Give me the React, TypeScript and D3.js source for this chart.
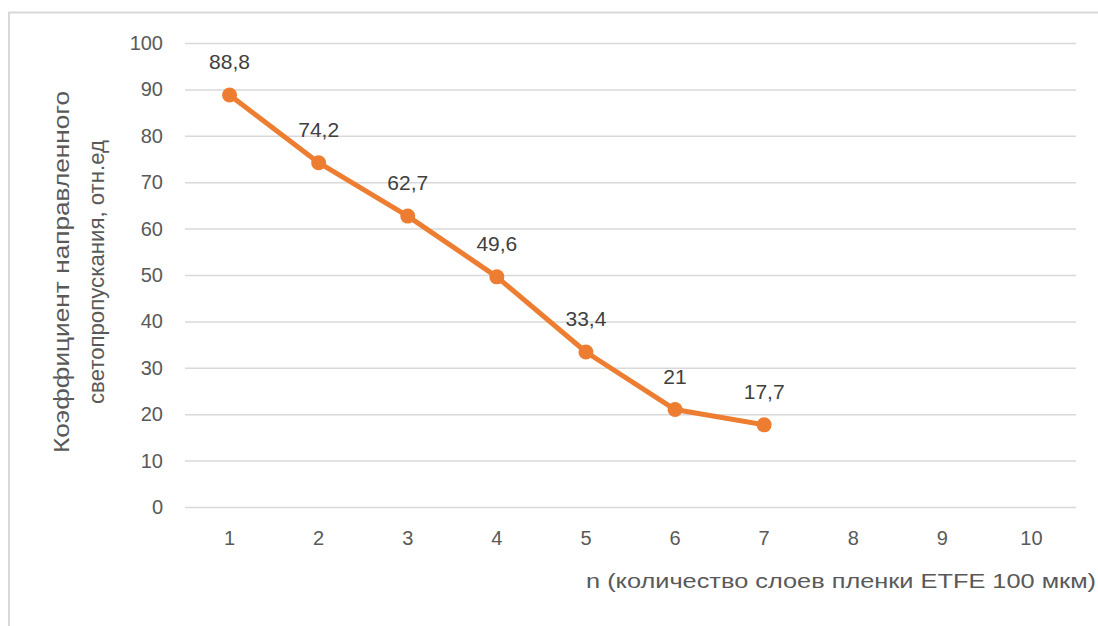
import { useEffect, useRef } from "react";
import * as d3 from "d3";

const layers = [1, 2, 3, 4, 5, 6, 7, 8, 9, 10];
const transmission: (number | null)[] = [88.8, 74.2, 62.7, 49.6, 33.4, 21, 17.7, null, null, null];
const yTicks = [0, 10, 20, 30, 40, 50, 60, 70, 80, 90, 100];
const xTitle = "n (количество слоев пленки ETFE 100 мкм)";
const yTitle = ["Коэффициент направленного", "светопропускания, отн.ед"];

const W = 1098;
const H = 626;
const FONT = "'Liberation Sans', Arial, sans-serif";
const TEXT = "#595959";
const ORANGE = "#ED7D31";

export default function App() {
  const svgRef = useRef<SVGSVGElement>(null);

  useEffect(() => {
    if (!svgRef.current) return;
    const svg = d3.select(svgRef.current);
    svg.selectAll("*").remove();

    const margin = { top: 43, right: 22, bottom: 119, left: 185 };
    const innerW = W - margin.left - margin.right;
    const innerH = H - margin.top - margin.bottom;

    // chart frame, runs off the bottom/right edge
    svg
      .append("rect")
      .attr("x", 9)
      .attr("y", 12.5)
      .attr("width", W + 20)
      .attr("height", H + 20)
      .attr("fill", "white")
      .attr("stroke", "#d9d9d9")
      .attr("stroke-width", 2);

    const g = svg
      .append("g")
      .attr("transform", `translate(${margin.left},${margin.top})`);

    const x = d3
      .scaleBand<number>()
      .domain(layers)
      .range([0, innerW])
      .padding(0);
    const y = d3.scaleLinear().domain([0, 100]).range([innerH, 0]);

    // gridlines
    g.append("g")
      .call(
        d3
          .axisLeft(y)
          .tickValues(yTicks)
          .tickSize(-innerW)
          .tickFormat(() => "")
      )
      .call((axis) => {
        axis.select(".domain").remove();
        axis
          .selectAll("line")
          .attr("stroke", "#d9d9d9")
          .attr("stroke-width", 1.5);
      });

    // y tick labels
    g.append("g")
      .call(d3.axisLeft(y).tickValues(yTicks).tickSize(0).tickPadding(22))
      .call((axis) => {
        axis.select(".domain").remove();
        axis
          .selectAll("text")
          .attr("fill", TEXT)
          .attr("font-size", "20px")
          .attr("font-family", FONT);
      });

    // x tick labels
    g.append("g")
      .attr("transform", `translate(0,${innerH})`)
      .call(d3.axisBottom(x).tickSize(0).tickPadding(24))
      .call((axis) => {
        axis.select(".domain").remove();
        axis
          .selectAll("text")
          .attr("fill", TEXT)
          .attr("font-size", "20px")
          .attr("font-family", FONT);
      });

    const cx = (d: number) => (x(d) ?? 0) + x.bandwidth() / 2;
    const pts = layers
      .map((n, i) => ({ n, v: transmission[i] }))
      .filter((p): p is { n: number; v: number } => p.v !== null);

    const line = d3
      .line<{ n: number; v: number }>()
      .x((p) => cx(p.n))
      .y((p) => y(p.v));

    g.append("path")
      .datum(pts)
      .attr("d", line)
      .attr("fill", "none")
      .attr("stroke", ORANGE)
      .attr("stroke-width", 5)
      .attr("stroke-linejoin", "round")
      .attr("stroke-linecap", "round");

    g.selectAll("circle.pt")
      .data(pts)
      .join("circle")
      .attr("class", "pt")
      .attr("cx", (p) => cx(p.n))
      .attr("cy", (p) => y(p.v))
      .attr("r", 7.5)
      .attr("fill", ORANGE);

    g.selectAll("text.lbl")
      .data(pts)
      .join("text")
      .attr("class", "lbl")
      .attr("x", (p) => cx(p.n))
      .attr("y", (p) => y(p.v) - 26)
      .attr("text-anchor", "middle")
      .attr("fill", "#404040")
      .attr("font-size", "21px")
      .attr("font-family", FONT)
      .text((p) => String(p.v).replace(".", ","));

    // axis titles
    svg
      .append("text")
      .attr("x", 1096)
      .attr("y", 588)
      .attr("text-anchor", "end")
      .attr("fill", TEXT)
      .attr("font-size", "21px")
      .attr("font-family", FONT)
      .attr("textLength", 510)
      .attr("lengthAdjust", "spacingAndGlyphs")
      .text(xTitle);

    const yt = svg
      .append("text")
      .attr("transform", `translate(0,272) rotate(-90)`)
      .attr("text-anchor", "middle")
      .attr("fill", TEXT)
      .attr("font-size", "22px")
      .attr("font-family", FONT);
    yt.append("tspan")
      .attr("x", 0)
      .attr("y", 69)
      .attr("textLength", 362)
      .attr("lengthAdjust", "spacingAndGlyphs")
      .text(yTitle[0]);
    yt.append("tspan")
      .attr("x", 0)
      .attr("y", 104)
      .attr("textLength", 264)
      .attr("lengthAdjust", "spacingAndGlyphs")
      .text(yTitle[1]);
  }, []);

  return (
    <div style={{ position: "fixed", left: 0, top: 0, background: "white" }}>
      <svg ref={svgRef} width={W} height={H} style={{ display: "block" }} />
    </div>
  );
}
